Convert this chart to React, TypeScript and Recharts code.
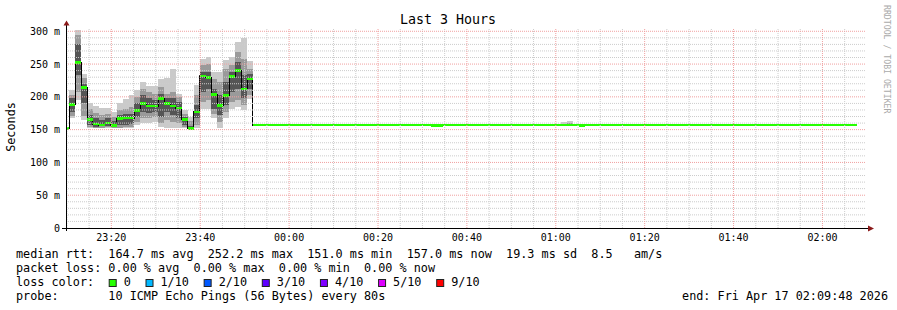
import React from "react";
import { Area, ComposedChart, ReferenceLine, XAxis, YAxis } from "recharts";

// sample start times (80s steps), median and sorted-ping quantiles in ms
const sampleTimes = [
  "23:09:12", "23:10:32", "23:11:52", "23:13:12", "23:14:32", "23:15:52", "23:17:12",
  "23:18:32", "23:19:52", "23:21:12", "23:22:32", "23:23:52", "23:25:12", "23:26:32",
  "23:27:52", "23:29:12", "23:30:32", "23:31:52", "23:33:12", "23:34:32", "23:35:52",
  "23:37:12", "23:38:32", "23:39:52", "23:41:12", "23:42:32", "23:43:52", "23:45:12",
  "23:46:32", "23:47:52", "23:49:12", "23:50:32", "23:51:52", "00:31:52", "00:34:32",
  "01:01:12", "01:02:32", "01:03:52", "01:05:12", "01:06:32", "02:07:52",
];
const medianRtt = [
  151.5, 188, 252.8, 214.7, 165.5, 158.4, 157, 160.4, 156.4, 167, 168, 167.5, 179, 190,
  186, 186, 197.5, 190, 186, 183, 165.5, 152, 177, 232, 229.5, 203.5, 187, 202, 231.5,
  240.6, 212, 227, 157, 156, 157, 157, 157, 157, 156, 157, 157,
];
const pingMin = [
  150.5, 167, 195, 164.5, 152, 152, 152, 152, 152, 152, 152, 152, 157, 160, 160, 162, 154,
  152, 152, 152, 152, 149.2, 152, 182, 182, 167, 152, 167, 182, 185, 180, 196, 157, 156,
  157, 157, 157, 157, 156, 157, 157,
];
const pingLow2 = [
  150.5, 171, 207.6, 171, 154.5, 153, 153, 153.3, 152.8, 152.8, 154.3, 154.3, 162, 167,
  167, 169.5, 160, 164.5, 162, 159.4, 154.3, 150, 157, 192.4, 194.9, 174.6, 162, 177,
  192.4, 195, 187, 203, 157, 156, 157, 157, 157, 157, 156, 157, 157,
];
const pingLow3 = [
  151, 177, 233, 190, 157, 154.3, 155.3, 155.3, 153.8, 156.9, 157, 158, 169.5, 177, 175,
  177, 170, 177, 172, 167, 156.9, 151, 167, 207.6, 212.7, 182, 172, 187, 207.6, 212.7,
  197.5, 212, 157, 156, 157, 157, 157, 157, 156, 157, 157,
];
const pingHigh3 = [
  152, 197.5, 281, 220, 173, 167, 164.5, 168, 163, 172, 174.6, 174.6, 190, 202.5, 197.5,
  195, 205, 197.5, 197.5, 192.4, 169.5, 156, 187, 238, 238, 212.7, 202.5, 222.8, 238,
  253.3, 233, 235, 157, 156, 157, 157, 157, 157, 156, 157, 157,
];
const pingHigh2 = [
  152.5, 202.5, 294, 228, 182, 175, 173, 174.6, 169.5, 180, 182, 184.8, 200, 212.7, 207.6,
  205, 215, 205, 207.6, 200, 174.6, 163, 202.5, 248, 250.8, 227.9, 222.8, 243, 248, 268.5,
  258, 243, 157, 156, 157, 159, 160, 157, 156, 157, 157,
];
const pingMax = [
  152.5, 210, 301.5, 235.5, 190, 186, 183, 183, 177, 191, 196.5, 202.5, 210, 223, 217, 217,
  227, 228, 243, 205, 180, 169.5, 218, 258.4, 261, 238, 238, 255.8, 261, 284, 289, 254,
  157, 156, 157, 161.5, 162.5, 157, 156, 157, 157,
];

const xTickLabels = ["23:20", "23:40", "00:00", "00:20", "00:40", "01:00", "01:20", "01:40", "02:00"];
const yTicks = [0, 50, 100, 150, 200, 250, 300];

const lossLabels = ["0", "1/10", "2/10", "3/10", "4/10", "5/10", "9/10"];
const lossColors = ["#26ff00", "#00b8ff", "#0059ff", "#5e00ff", "#7e00ff", "#dd00ff", "#ff0000"];

const legendRtt = "median rtt:  164.7 ms avg  252.2 ms max  151.0 ms min  157.0 ms now  19.3 ms sd  8.5   am/s";
const legendLoss = "packet loss: 0.00 % avg  0.00 % max  0.00 % min  0.00 % now";
const legendProbe = "probe:       10 ICMP Echo Pings (56 Bytes) every 80s";
const legendEnd = "end: Fri Apr 17 02:09:48 2026";

const MONO = "'DejaVu Sans Mono', monospace";
const W = 897;
const H = 310;
const PLOT = { left: 66, top: 28, right: 866, bottom: 228 };
const CH = 7.11; // legend char advance
const MED_HALF = 2.0;

// keep runs of spaces in svg text
const pre = (s: string) => s.replace(/ /g, "\u00a0");

function toMin(hms: string): number {
  const [h, m, s] = hms.split(":").map(Number);
  const hh = h < 12 ? h + 24 : h;
  return (hh - 23) * 60 + m + (s || 0) / 60;
}

function fmtTime(v: number): string {
  const total = Math.round(23 * 60 + v);
  const h = Math.floor(total / 60) % 24;
  const m = total % 60;
  return `${String(h).padStart(2, "0")}:${String(m).padStart(2, "0")}`;
}

const START = toMin("23:09:48");
const END = toMin("02:09:48");
const xTicks = xTickLabels.map((l) => toMin(l + ":00"));

const rows = sampleTimes.map((s, i) => ({
  t: toMin(s),
  base: pingMin[i],
  b1: pingLow2[i] - pingMin[i],
  b2: pingLow3[i] - pingLow2[i],
  b3: pingHigh3[i] - pingLow3[i],
  b4: pingHigh2[i] - pingHigh3[i],
  b5: pingMax[i] - pingHigh2[i],
  median: medianRtt[i],
  medBase: medianRtt[i] - MED_HALF,
  medBand: MED_HALF * 2,
}));

const minorX: number[] = [];
for (let v = 10; v < END; v += 5) if (v % 20 !== 0) minorX.push(v);
const minorY: number[] = [];
for (let v = 10; v <= 300; v += 10) if (v % 50 !== 0) minorY.push(v);

const smokeBands = [
  { key: "b1", color: "#cacaca" },
  { key: "b2", color: "#9a9a9a" },
  { key: "b3", color: "#555555" },
  { key: "b4", color: "#9a9a9a" },
  { key: "b5", color: "#cacaca" },
];

function LossLegend() {
  let x = 108.7;
  return (
    <g>
      {lossLabels.map((label, i) => {
        const bx = x;
        x = bx + 15 + label.length * CH + 14.7;
        return (
          <g key={label}>
            <rect x={bx + 0.5} y={279.5} width={7} height={7} fill={lossColors[i]} stroke="#222" />
            <text x={bx + 15} y={285.5}>{label}</text>
          </g>
        );
      })}
    </g>
  );
}

export default function App() {
  return (
    <div style={{ position: "absolute", left: 0, top: 0, width: W, height: H, background: "#fff" }}>
      <style>{"svg path { shape-rendering: crispEdges; }"}</style>
      <ComposedChart
        width={W}
        height={H}
        data={rows}
        margin={{ top: PLOT.top, right: W - PLOT.right, bottom: H - PLOT.bottom - 20, left: 0 }}
      >
        <XAxis
          dataKey="t"
          type="number"
          domain={[START, END]}
          ticks={xTicks}
          tickFormatter={fmtTime}
          allowDataOverflow
          axisLine={false}
          tickLine={false}
          tickSize={4}
          tickMargin={2}
          height={20}
          tick={{ fontFamily: MONO, fontSize: 10, fill: "#000" }}
        />
        <YAxis
          type="number"
          domain={[0, 305]}
          ticks={yTicks}
          tickFormatter={(v: number) => (v === 0 ? "0" : `${v} m`)}
          allowDataOverflow
          axisLine={false}
          tickLine={false}
          tickSize={4}
          tickMargin={2}
          width={PLOT.left}
          tick={{ fontFamily: MONO, fontSize: 10, fill: "#000" }}
        />
        {minorX.map((v) => (
          <ReferenceLine key={`mx${v}`} x={v} stroke="#cccccc" strokeDasharray="1 1" />
        ))}
        {minorY.map((v) => (
          <ReferenceLine key={`my${v}`} y={v} stroke="#cccccc" strokeDasharray="1 1" />
        ))}
        {xTicks.map((v) => (
          <ReferenceLine key={`Mx${v}`} x={v} stroke="#f0a0a0" strokeDasharray="1 1" />
        ))}
        {yTicks.slice(1).map((v) => (
          <ReferenceLine key={`My${v}`} y={v} stroke="#f0a0a0" strokeDasharray="1 1" />
        ))}
        <Area type="stepAfter" dataKey="base" stackId="smoke" stroke="none" fill="none" dot={false} activeDot={false} isAnimationActive={false} />
        {smokeBands.map((b) => (
          <Area
            key={b.key}
            type="stepAfter"
            dataKey={b.key}
            stackId="smoke"
            stroke="none"
            fill={b.color}
            fillOpacity={1}
            dot={false}
            activeDot={false}
            isAnimationActive={false}
          />
        ))}
        <Area type="stepAfter" dataKey="median" stroke="#000" strokeWidth={1} fill="none" dot={false} activeDot={false} isAnimationActive={false} />
        <Area type="stepAfter" dataKey="medBase" stackId="med" stroke="none" fill="none" dot={false} activeDot={false} isAnimationActive={false} />
        <Area type="stepAfter" dataKey="medBand" stackId="med" stroke="none" fill={lossColors[0]} fillOpacity={1} dot={false} activeDot={false} isAnimationActive={false} />
      </ComposedChart>

      <svg
        width={W}
        height={H}
        style={{ position: "absolute", left: 0, top: 0, pointerEvents: "none" }}
        fontFamily={MONO}
      >
        <text x={448} y={24} textAnchor="middle" fontSize={13.3} fill="#000">
          Last 3 Hours
        </text>
        <text transform="translate(15,127) rotate(-90)" textAnchor="middle" fontSize={11.8} fill="#000">
          Seconds
        </text>
        <text transform="translate(884,5) rotate(90)" fontSize={8.2} fill="#aaaaaa">
          RRDTOOL / TOBI OETIKER
        </text>

        <line x1={PLOT.left + 0.5} y1={24} x2={PLOT.left + 0.5} y2={PLOT.bottom + 3} stroke="#000" />
        <line x1={PLOT.left - 4} y1={PLOT.bottom + 0.5} x2={PLOT.right + 3} y2={PLOT.bottom + 0.5} stroke="#000" />
        <polygon points={`${PLOT.left - 2.5},25.5 ${PLOT.left + 3.5},25.5 ${PLOT.left + 0.5},20.5`} fill="#8b1a1a" />
        <polygon
          points={`${PLOT.right + 2},${PLOT.bottom - 2.5} ${PLOT.right + 2},${PLOT.bottom + 3.5} ${PLOT.right + 8},${PLOT.bottom + 0.5}`}
          fill="#8b1a1a"
        />

        <g fontSize={11.8} fill="#000">
          <text x={16} y={258}>{pre(legendRtt)}</text>
          <text x={16} y={271.5}>{pre(legendLoss)}</text>
          <text x={16} y={285.5}>{pre("loss color:")}</text>
          <LossLegend />
          <text x={16} y={299.5}>{pre(legendProbe)}</text>
          <text x={888} y={299.5} textAnchor="end">{pre(legendEnd)}</text>
        </g>
      </svg>
    </div>
  );
}
